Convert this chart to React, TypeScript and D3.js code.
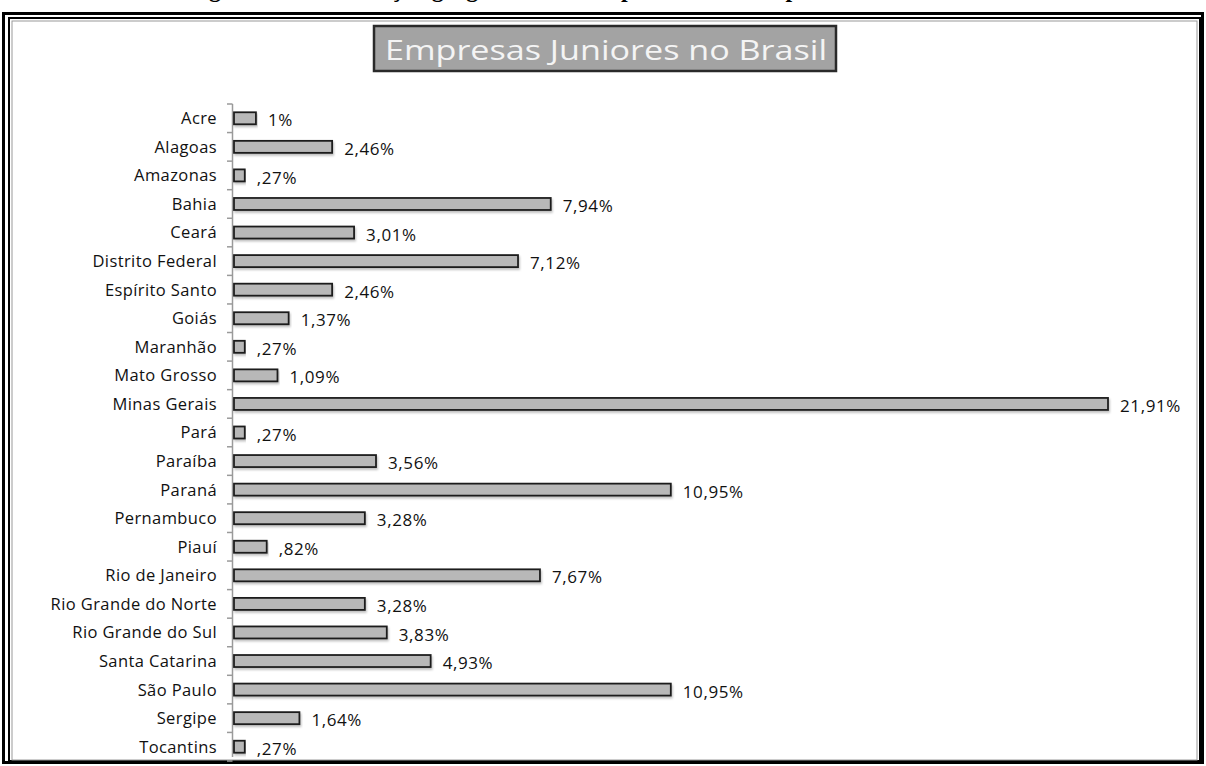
import React, { useEffect } from "react";
import * as d3 from "d3";

const categories: string[] = [
  "Acre", "Alagoas", "Amazonas", "Bahia", "Ceará", "Distrito Federal", "Espírito Santo",
  "Goiás", "Maranhão", "Mato Grosso", "Minas Gerais", "Pará", "Paraíba", "Paraná",
  "Pernambuco", "Piauí", "Rio de Janeiro", "Rio Grande do Norte", "Rio Grande do Sul",
  "Santa Catarina", "São Paulo", "Sergipe", "Tocantins",
];
const values: number[] = [
  0.55, 2.46, 0.27, 7.94, 3.01, 7.12, 2.46, 1.37, 0.27, 1.09, 21.91, 0.27, 3.56, 10.95,
  3.28, 0.82, 7.67, 3.28, 3.83, 4.93, 10.95, 1.64, 0.27,
];
const valueLabels: string[] = [
  "1%", "2,46%", ",27%", "7,94%", "3,01%", "7,12%", "2,46%", "1,37%", ",27%", "1,09%",
  "21,91%", ",27%", "3,56%", "10,95%", "3,28%", ",82%", "7,67%", "3,28%", "3,83%",
  "4,93%", "10,95%", "1,64%", ",27%",
];
const chartTitle = "Empresas Juniores no Brasil";
const caption = "Figura 2 – Distribuição geográfica das Empresas Juniores por estado";

const W = 1206;
const H = 766;

export default function App() {
  useEffect(() => {
    document.body.style.margin = "0";
  }, []);

  const x = d3.scaleLinear().domain([0, 21.91]).range([234, 1108]);
  const y = d3.scaleBand<string>().domain(categories).range([104, 761]).paddingInner(0.58).paddingOuter(0.29);
  const step = y.step();
  const font = "'Open Sans', 'Noto Sans', sans-serif";

  return (
    <svg width={W} height={H} style={{ position: "absolute", left: 0, top: 0, background: "#fff" }}>
      <defs>
        <clipPath id="capclip">
          <rect x={0} y={0} width={W} height={11} />
        </clipPath>
        <filter id="sh" x="-5%" y="-50%" width="110%" height="200%">
          <feDropShadow dx="1" dy="2" stdDeviation="1" floodColor="#000" floodOpacity="0.25" />
        </filter>
      </defs>
      <rect width={W} height={H} fill="#fff" />
      {/* caption of the page above, cut off by the scan */}
      <g clipPath="url(#capclip)">
        <text x={540} y={-3} textAnchor="middle" fontFamily="'Liberation Serif', serif" fontWeight="bold" fontSize={24} fill="#000">
          {caption}
        </text>
      </g>
      {/* frame */}
      <rect x={3.5} y={13.5} width={1199} height={749} fill="none" stroke="#000" strokeWidth={3} />
      <rect x={9} y={18} width={1191} height={743} fill="none" stroke="#000" strokeWidth={2} />
      <rect x={12} y={21} width={1185} height={739} fill="none" stroke="#999" strokeWidth={1} />

      {/* title box */}
      <rect x={374} y={26} width={462} height={45} fill="#a3a3a3" stroke="#2a2a2a" strokeWidth={2.5} />
      <text x={606} y={60} textAnchor="middle" fontFamily={font} fontSize={28} fill="#f4f4f4"
        textLength={442} lengthAdjust="spacingAndGlyphs">
        {chartTitle}
      </text>

      {/* axis */}
      <line x1={232.5} x2={232.5} y1={y.range()[0]} y2={y.range()[1] - 4} stroke="#9a9a9a" strokeWidth={1.5} />
      {d3.range(categories.length + 1).map((i) => {
        const yy = 104 + i * step;
        return <line key={"t" + i} x1={227} x2={232.5} y1={yy} y2={yy} stroke="#9a9a9a" strokeWidth={1.5} />;
      })}

      {categories.map((c, i) => {
        const by = y(c)!;
        const bh = y.bandwidth();
        const cy = by + bh / 2;
        return (
          <g key={c}>
            <text x={217} y={cy} dy="0.36em" textAnchor="end" fontFamily={font} fontSize={16.5}
              letterSpacing={0.4} fill="#111">
              {c}
            </text>
            <rect x={x(0)} y={by} width={x(values[i]) - x(0)} height={bh} fill="#b8b8b8" stroke="#1e1e1e"
              strokeWidth={1.8} filter="url(#sh)" />
            <text x={x(values[i]) + 12} y={cy + 2} dy="0.36em" fontFamily={font} fontSize={17}
              letterSpacing={0.6} fill="#111">
              {valueLabels[i]}
            </text>
          </g>
        );
      })}
    </svg>
  );
}
